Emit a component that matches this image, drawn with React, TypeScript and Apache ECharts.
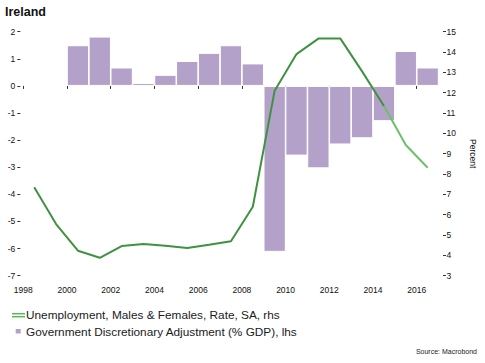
import React, { useEffect, useRef } from "react";
import * as echarts from "echarts";

const barYears = [2000, 2001, 2002, 2003, 2004, 2005, 2006, 2007, 2008, 2009, 2010, 2011, 2012, 2013, 2014, 2015, 2016];
const govAdjustment = [1.5, 1.82, 0.68, 0.11, 0.41, 0.92, 1.22, 1.5, 0.83, -6.12, -2.57, -3.04, -2.16, -1.93, -1.3, 1.29, 0.68];

const lineYears = [1998, 1999, 2000, 2001, 2002, 2003, 2004, 2005, 2006, 2007, 2008, 2009, 2010, 2011, 2012, 2013, 2014, 2015, 2016];
const unemployment = [7.35, 5.54, 4.23, 3.88, 4.46, 4.56, 4.47, 4.36, 4.52, 4.69, 6.39, 12.1, 13.9, 14.66, 14.67, 13.05, 11.35, 9.43, 8.31];
const lightFromYear = 2014;

const xTickYears = [1998, 2000, 2002, 2004, 2006, 2008, 2010, 2012, 2014, 2016];

const lineLabel = "Unemployment, Males & Females, Rate, SA, rhs";
const barLabel = "Government Discretionary Adjustment (% GDP), lhs";
const title = "Ireland";
const source = "Source: Macrobond";

const FONT = "'Liberation Sans', Arial, sans-serif";
const DARK_GREEN = "#3f923f";
const LIGHT_GREEN = "#6cc06b";
const PURPLE = "#b3a1ca";

export default function App() {
  const ref = useRef<HTMLDivElement>(null);
  useEffect(() => {
    if (!ref.current) return;
    const chart = echarts.init(ref.current, undefined, { renderer: "svg" });
    const axisLabelStyle = { color: "#111", fontSize: 8.5, fontFamily: FONT };
    const linePts = lineYears.map((y, i) => [y + 0.5, unemployment[i]]);
    const darkPts = linePts.filter((p, i) => lineYears[i] <= lightFromYear);
    const lightPts = linePts.filter((p, i) => lineYears[i] >= lightFromYear);
    chart.setOption({
      animation: false,
      backgroundColor: "#fff",
      grid: { left: 23.3, right: 38.7, top: 31.7, bottom: 87.3, containLabel: false },
      xAxis: {
        type: "value",
        min: 1998,
        max: 2017,
        interval: 2,
        offset: 6,
        axisLine: { show: false },
        splitLine: { show: false },
        axisTick: { show: true, length: 3, lineStyle: { color: "#333" }, customValues: xTickYears },
        axisLabel: { ...axisLabelStyle, margin: 4, customValues: xTickYears, formatter: (v: number) => String(v) },
      },
      yAxis: [
        {
          type: "value",
          position: "left",
          min: -7,
          max: 2,
          interval: 1,
          offset: 3,
          axisLine: { show: false },
          splitLine: { show: false },
          axisTick: { show: true, length: 3, lineStyle: { color: "#333" } },
          axisLabel: { ...axisLabelStyle, margin: 5 },
        },
        {
          type: "value",
          position: "right",
          min: 3,
          max: 15,
          interval: 1,
          offset: 4.4,
          name: "Percent",
          nameLocation: "middle",
          nameRotate: -90,
          nameGap: 25,
          nameTextStyle: { color: "#111", fontSize: 8.5, fontFamily: FONT },
          axisLine: { show: false },
          splitLine: { show: false },
          axisTick: { show: true, length: 3, lineStyle: { color: "#333" } },
          axisLabel: { ...axisLabelStyle, margin: 3.5 },
        },
      ],
      series: [
        {
          name: barLabel,
          type: "bar",
          yAxisIndex: 0,
          barWidth: 22.3,
          itemStyle: { color: PURPLE, borderColor: "#fff", borderWidth: 1 },
          data: barYears.map((y, i) => [y + 0.5, govAdjustment[i]]),
        },
        {
          name: lineLabel,
          type: "line",
          yAxisIndex: 1,
          showSymbol: false,
          lineStyle: { width: 2, color: DARK_GREEN },
          itemStyle: { color: DARK_GREEN },
          data: darkPts,
        },
        {
          name: lineLabel + " (latest)",
          type: "line",
          yAxisIndex: 1,
          showSymbol: false,
          lineStyle: { width: 2, color: LIGHT_GREEN },
          itemStyle: { color: LIGHT_GREEN },
          data: lightPts,
        },
      ],
      graphic: [
        {
          type: "text",
          left: 5,
          top: 5,
          style: { text: title, fontSize: 12.5, fontWeight: "bold", fontFamily: FONT, fill: "#111" },
        },
        { type: "line", shape: { x1: 12, y1: 313.7, x2: 25, y2: 313.7 }, style: { stroke: "#5cb85c", lineWidth: 1.5 } },
        { type: "line", shape: { x1: 12, y1: 316.7, x2: 25, y2: 316.7 }, style: { stroke: "#5cb85c", lineWidth: 1.5 } },
        {
          type: "text",
          x: 26,
          y: 315.3,
          style: { text: lineLabel, fontSize: 11.8, fontFamily: FONT, fill: "#1a1a1a", verticalAlign: "middle" },
        },
        { type: "rect", shape: { x: 15.7, y: 329, width: 5, height: 4.5 }, style: { fill: PURPLE } },
        {
          type: "text",
          x: 26,
          y: 331.5,
          style: { text: barLabel, fontSize: 11.8, fontFamily: FONT, fill: "#1a1a1a", verticalAlign: "middle" },
        },
        {
          type: "text",
          x: 477,
          y: 351.7,
          style: { text: source, fontSize: 7, fontFamily: FONT, fill: "#222", align: "right", verticalAlign: "middle" },
        },
      ],
    });
    return () => chart.dispose();
  }, []);
  return <div ref={ref} style={{ width: 485, height: 363, position: "absolute", left: 0, top: 0 }} />;
}
